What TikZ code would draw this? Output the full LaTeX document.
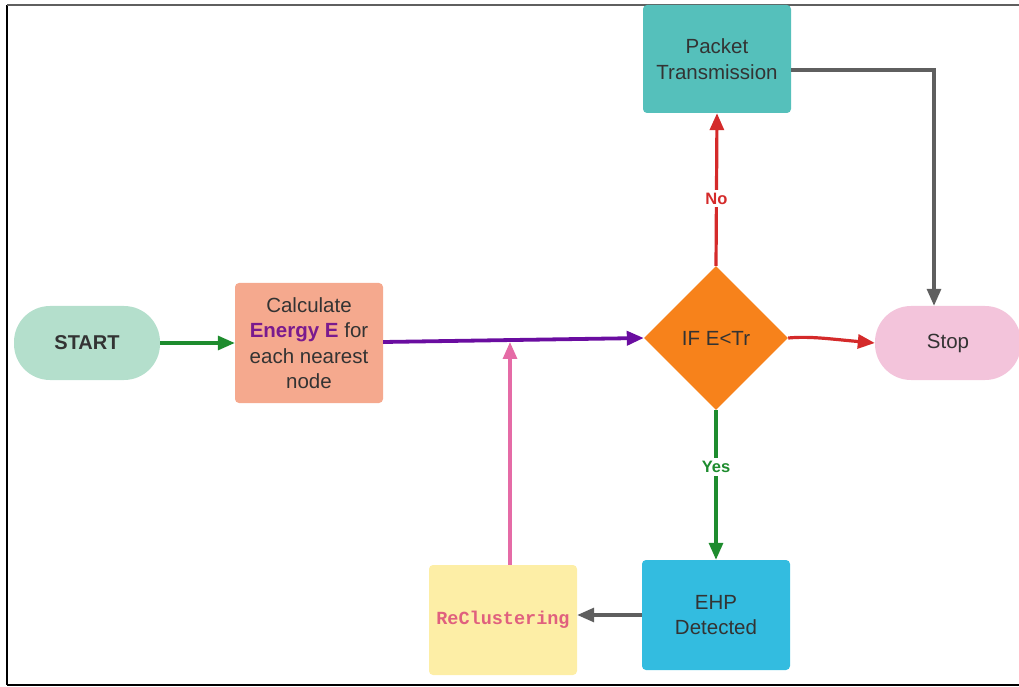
\documentclass[tikz,border=0pt]{standalone}
\usepackage{fontspec}
\setmainfont{Liberation Sans}
\newfontfamily\monob{Liberation Mono}
\usetikzlibrary{shapes.geometric,arrows.meta}
\definecolor{cstart}{HTML}{B4DFCC}
\definecolor{ccalc}{HTML}{F5A98E}
\definecolor{cdiam}{HTML}{F7821B}
\definecolor{cstop}{HTML}{F3C4DB}
\definecolor{cpack}{HTML}{55C0BB}
\definecolor{cehp}{HTML}{33BCE0}
\definecolor{crec}{HTML}{FDEEA6}
\definecolor{ctext}{HTML}{333333}
\definecolor{cpurple}{HTML}{6A0DA0}
\definecolor{cegy}{HTML}{7A1A8E}
\definecolor{cred}{HTML}{D42A2A}
\definecolor{cgreen}{HTML}{1E8C2E}
\definecolor{cgray}{HTML}{5F5F5F}
\definecolor{cpink}{HTML}{E56BA6}
\definecolor{cpinktxt}{HTML}{E0607E}
\tikzset{
  box/.style={rectangle, rounded corners=4pt, draw=none, minimum width=148pt, align=center, text=ctext, font=\fontsize{20.5}{25.5}\selectfont},
  pill/.style={rectangle, rounded corners=36pt, draw=none, minimum width=146pt, minimum height=74pt, align=center, text=ctext, font=\fontsize{20.5}{25.5}\selectfont},
  conn/.style={line width=3.2pt, -{Triangle[length=17pt,width=14pt]}},
  lbl/.style={fill=white, font=\bfseries\fontsize{16.5}{19}\selectfont, inner sep=3pt}
}
\begin{document}
\begin{tikzpicture}[x=1pt,y=1pt]
\useasboundingbox (0,0) rectangle (1019,686);
% frame
\draw[line width=1.5pt, black] (7,681) -- (7,1);
\draw[line width=1.5pt, black] (7,1) -- (1019,1);
\draw[line width=2pt, cgray] (7,681) -- (1019,681);
% nodes
\node[pill, fill=cstart, font=\bfseries\fontsize{20}{24}\selectfont] (start) at (87,343) {START};
\node[box, fill=ccalc, minimum height=120pt] (calc) at (309,343) {Calculate\\{\bfseries\color{cegy}Energy E} for\\each nearest\\node};
\node[diamond, fill=cdiam, minimum width=144pt, minimum height=144pt, inner sep=0pt, text=ctext, font=\fontsize{20.5}{25}\selectfont] (dec) at (716,348) {IF E<Tr};
\node[pill, fill=cstop] (stop) at (948,343) {Stop};
\node[box, fill=cpack, minimum height=108pt] (pack) at (717,627) {Packet\\Transmission};
\node[box, fill=cehp, minimum height=110pt] (ehp) at (716,71) {EHP\\Detected};
\node[box, fill=crec, minimum height=110pt, text=cpinktxt, font=\monob\bfseries\fontsize{18.5}{22}\selectfont] (rec) at (503,66) {ReClustering};
% connectors
\draw[conn, cgreen] (start.east) -- (calc.west);
\draw[conn, cpurple, line width=3.8pt] (calc.east |- 0,344) -- (dec.west);
\coordinate (join) at (510,344);
\draw[conn, cred] (dec.north) -- node[lbl, text=cred, pos=0.44] (no) {No} (pack.south);
\draw[conn, cred] (dec.east) .. controls (810,350) and (830,347) .. (stop.west);
\draw[conn, cgreen] (dec.south) -- node[lbl, text=cgreen, pos=0.38] (yes) {Yes} (ehp.north);
\draw[conn, cgray] (ehp.west) -- (rec.east |- ehp.west);
\draw[conn, cpink] (rec.north -| join) -- (join);
\draw[conn, cgray] (pack.east |- 0,616) -| (stop.north -| 934,0);
\end{tikzpicture}
\end{document}
